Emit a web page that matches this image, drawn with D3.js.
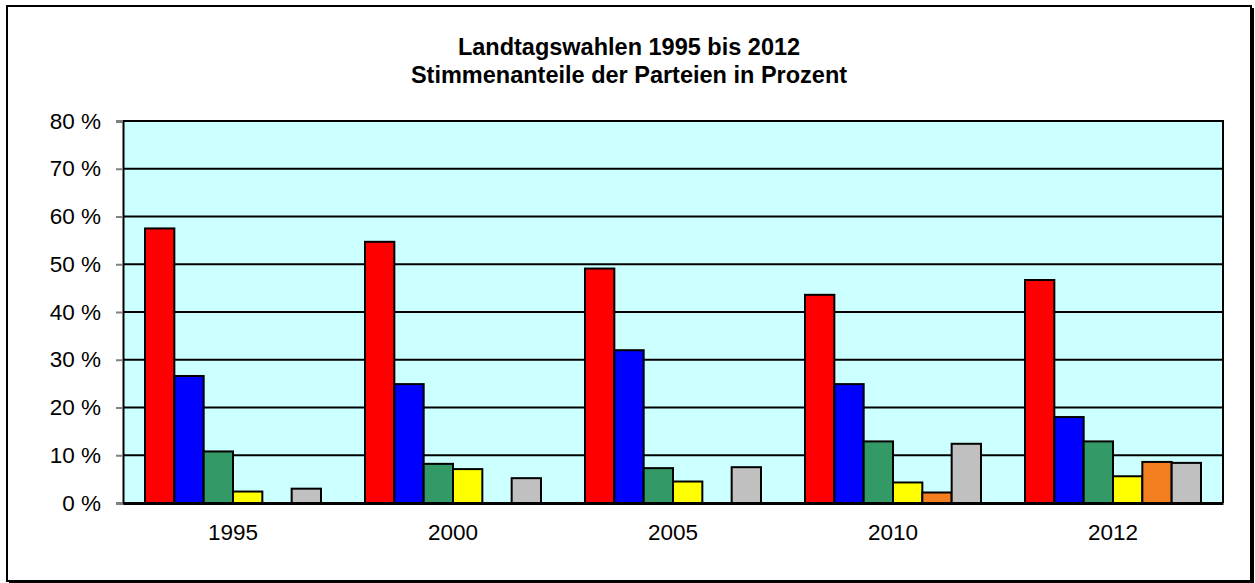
<!DOCTYPE html>
<html>
<head>
<meta charset="utf-8">
<script src="https://cdn.jsdelivr.net/npm/d3@7"></script>
<style>
  html, body { margin: 0; padding: 0; background: #fff; }
  svg { display: block; }
  text { font-family: "Liberation Sans", Arial, sans-serif; fill: #000; }
</style>
</head>
<body>
<svg id="chart" width="1255" height="583"></svg>
<script>
// ---- Data ----
const years = ["1995", "2000", "2005", "2010", "2012"];
const parties = ["SPD", "CDU", "Grüne", "FDP", "Andere Partei", "Sonstige"];
const spd      = [57.5, 54.7, 49.1, 43.6, 46.7];
const cdu      = [26.6, 24.9, 32.0, 24.9, 18.0];
const gruene   = [10.8, 8.2, 7.3, 12.9, 12.9];
const fdp      = [2.4, 7.1, 4.5, 4.3, 5.6];
const andere   = [null, null, null, 2.2, 8.6];
const sonstige = [3.0, 5.2, 7.5, 12.4, 8.4];
const yTicks = [0, 10, 20, 30, 40, 50, 60, 70, 80];
const titleLines = ["Landtagswahlen 1995 bis 2012", "Stimmenanteile der Parteien in Prozent"];

const seriesValues = [spd, cdu, gruene, fdp, andere, sonstige];
const colors = ["#FF0000", "#0000FF", "#339966", "#FFFF00", "#F47F20", "#C0C0C0"];

// ---- Layout ----
const svg = d3.select("#chart");
const plot = { left: 123, right: 1223, top: 121, bottom: 503 };

// Outer frame with shadow
svg.append("rect").attr("x", 9).attr("y", 8).attr("width", 1245).attr("height", 575).attr("fill", "#000");
svg.append("rect").attr("x", 7).attr("y", 6).attr("width", 1244).attr("height", 575)
  .attr("fill", "#fff").attr("stroke", "#000").attr("stroke-width", 2);

// Title
svg.append("g").selectAll("text").data(titleLines).join("text")
  .attr("x", 629).attr("y", (d, i) => 55 + i * 28)
  .attr("text-anchor", "middle")
  .attr("font-size", 23.5).attr("font-weight", "bold")
  .text(d => d);

// Scales
const x0 = d3.scaleBand().domain(years).range([plot.left, plot.right]).padding(0);
const x1 = d3.scaleBand().domain(parties).range([x0.bandwidth() * 0.1, x0.bandwidth() * 0.9]).padding(0);
const y = d3.scaleLinear().domain([0, 80]).range([plot.bottom, plot.top]);
const color = d3.scaleOrdinal().domain(parties).range(colors);

// Plot background
svg.append("rect")
  .attr("x", plot.left).attr("y", plot.top)
  .attr("width", plot.right - plot.left).attr("height", plot.bottom - plot.top)
  .attr("fill", "#CCFFFF");

// Gridlines
svg.append("g").selectAll("line").data(yTicks.filter(t => t > 0 && t < 80)).join("line")
  .attr("x1", plot.left).attr("x2", plot.right)
  .attr("y1", d => y(d)).attr("y2", d => y(d))
  .attr("stroke", "#000").attr("stroke-width", 2);

// Bars
const rows = years.map((yr, i) => ({
  year: yr,
  vals: parties.map((p, j) => ({ party: p, value: seriesValues[j][i] })).filter(v => v.value != null)
}));

const groups = svg.append("g").selectAll("g").data(rows).join("g")
  .attr("transform", d => `translate(${x0(d.year)},0)`);

groups.selectAll("rect").data(d => d.vals).join("rect")
  .attr("x", d => x1(d.party))
  .attr("y", d => y(d.value))
  .attr("width", x1.bandwidth())
  .attr("height", d => y(0) - y(d.value))
  .attr("fill", d => color(d.party))
  .attr("stroke", "#000").attr("stroke-width", 2);

// Plot border (top/right)
svg.append("path")
  .attr("d", `M${plot.left},${plot.top}H${plot.right}V${plot.bottom}`)
  .attr("fill", "none").attr("stroke", "#000").attr("stroke-width", 2);

// Y axis
const yAxis = d3.axisLeft(y).tickValues(yTicks).tickSize(7).tickPadding(15).tickFormat(d => `${d} %`);
const gy = svg.append("g").attr("transform", `translate(${plot.left},0)`).call(yAxis);
gy.select(".domain").attr("stroke", "#000").attr("stroke-width", 2);
gy.selectAll(".tick line").attr("stroke", "#808080").attr("stroke-width", 2);
gy.selectAll(".tick text").attr("font-size", 22.5).attr("font-family", "Liberation Sans, Arial, sans-serif").attr("fill", "#000");

// X axis
const xAxis = d3.axisBottom(x0).tickSize(0).tickPadding(21);
const gx = svg.append("g").attr("transform", `translate(0,${plot.bottom})`).call(xAxis);
gx.select(".domain").attr("stroke", "#000").attr("stroke-width", 3);
gx.selectAll(".tick text").attr("font-size", 22.5).attr("font-family", "Liberation Sans, Arial, sans-serif").attr("fill", "#000");
</script>
</body>
</html>
